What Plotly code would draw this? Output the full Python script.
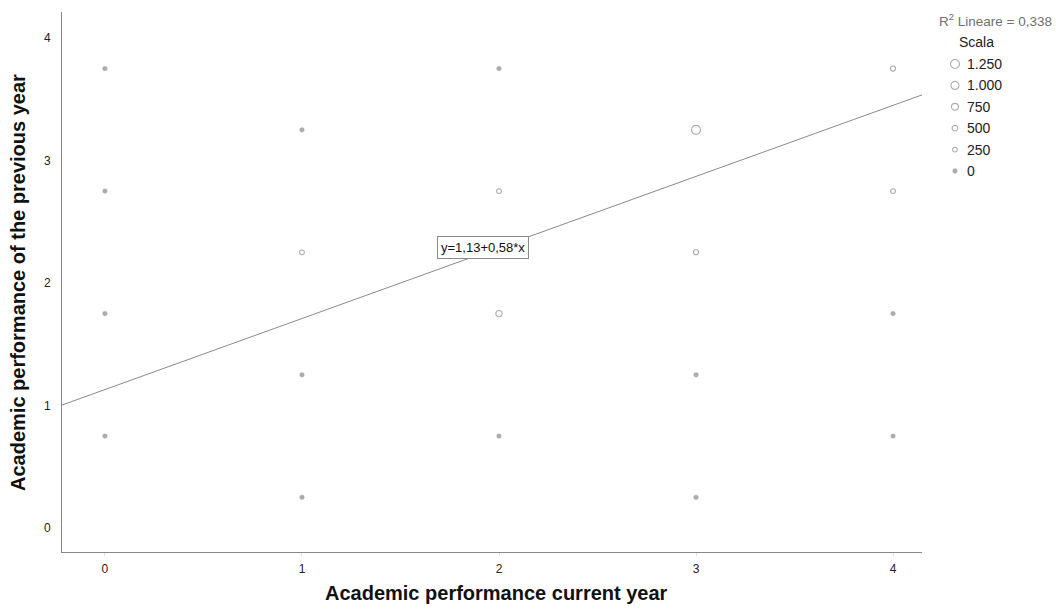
import plotly.graph_objects as go

# ---- data ----
x_current = [0, 0, 0, 0,
             1, 1, 1, 1,
             2, 2, 2, 2,
             3, 3, 3, 3,
             4, 4, 4, 4]
y_previous = [3.75, 2.75, 1.75, 0.75,
              3.25, 2.25, 1.25, 0.25,
              3.75, 2.75, 1.75, 0.75,
              3.25, 2.25, 1.25, 0.25,
              3.75, 2.75, 1.75, 0.75]
counts = [60, 50, 60, 40,
          60, 150, 80, 30,
          70, 200, 600, 100,
          1250, 400, 80, 40,
          400, 150, 80, 60]

intercept = 1.13
slope = 0.58
fit_label = "y=1,13+0,58*x"
r2_label = "R<sup>2</sup> Lineare = 0,338"

legend_values = [1250, 1000, 750, 500, 250, 0]
legend_labels = ["1.250", "1.000", "750", "500", "250", "0"]

x_ticks = [0, 1, 2, 3, 4]
y_ticks = [0, 1, 2, 3, 4]

x_title = "Academic performance current year"
y_title = "Academic performance of the previous year"

# ---- styling ----
FONT = "Liberation Sans, Arial, sans-serif"
GREY = "#8a8a8a"
x_range = [-0.218, 4.147]
y_range = [-0.196, 4.212]
sizeref = 2.0 * max(legend_values) / (9 ** 2)
small_cut = 120


def symbols(vals):
    return ["circle" if v < small_cut else "circle-open" for v in vals]


def widths(vals):
    return [0.3 if v < small_cut else 1.1 for v in vals]


fig = go.Figure()

# regression line
fig.add_trace(go.Scatter(
    x=x_range, y=[intercept + slope * v for v in x_range],
    mode="lines", line=dict(color=GREY, width=1),
    hoverinfo="skip", showlegend=False))

# bubbles
fig.add_trace(go.Scatter(
    x=x_current, y=y_previous, mode="markers",
    marker=dict(size=counts, sizemode="area", sizeref=sizeref, sizemin=2.4,
                symbol=symbols(counts), color=GREY,
                line=dict(color=GREY, width=widths(counts))),
    showlegend=False, cliponaxis=False))

# size legend drawn on a small helper axis in the right margin
leg_rows = list(range(len(legend_values)))
fig.add_trace(go.Scatter(
    x=[0.153] * len(legend_values), y=leg_rows, mode="markers",
    marker=dict(size=[max(v, 1) for v in legend_values], sizemode="area", sizeref=sizeref,
                sizemin=2.4, symbol=symbols(legend_values), color=GREY,
                line=dict(color=GREY, width=widths(legend_values))),
    xaxis="x2", yaxis="y2", showlegend=False, hoverinfo="skip", cliponaxis=False))
for i, lab in enumerate(legend_labels):
    fig.add_annotation(x=0.24, y=leg_rows[i], xref="x2", yref="y2", text=lab,
                       showarrow=False, xanchor="left", yanchor="middle",
                       font=dict(family=FONT, size=14, color="#222"))
fig.add_annotation(x=0.17, y=-1.03, xref="x2", yref="y2", text="Scala",
                   showarrow=False, xanchor="left", yanchor="middle",
                   font=dict(family=FONT, size=14, color="#222"))
fig.add_annotation(x=0.0, y=-2.05, xref="x2", yref="y2", text=r2_label,
                   showarrow=False, xanchor="left", yanchor="middle",
                   font=dict(family=FONT, size=13.5, color="#707070"))

# equation box
fig.add_annotation(x=1.92, y=2.286, text=fit_label, showarrow=False,
                   font=dict(family=FONT, size=13, color="#111"),
                   bgcolor="white", bordercolor="#8a8a8a", borderwidth=1, borderpad=3)

# axis titles
fig.add_annotation(x=0.5 * 0.8652 + 0.005, y=-0.0759, xref="paper", yref="paper",
                   text="<b>" + x_title + "</b>", showarrow=False,
                   xanchor="center", yanchor="middle",
                   font=dict(family=FONT, size=20, color="#111"))
fig.add_annotation(x=-0.0443, y=0.5, xref="paper", yref="paper",
                   text="<b>" + y_title + "</b>", showarrow=False, textangle=-90,
                   xanchor="center", yanchor="middle",
                   font=dict(family=FONT, size=20, color="#111"))

fig.update_layout(
    width=1056, height=614,
    margin=dict(l=62, r=0, t=12, b=62, autoexpand=False),
    paper_bgcolor="white", plot_bgcolor="white",
    font=dict(family=FONT, size=12, color="#222"),
    hovermode=False,
    xaxis=dict(domain=[0, 0.8652], range=x_range, tickvals=x_ticks, automargin=False,
               showgrid=False, zeroline=False, showline=True, linecolor="#888",
               linewidth=1, ticks="outside", ticklen=3, tickcolor="#e0e0e0",
               ticklabelstandoff=3,
               tickfont=dict(family=FONT, size=12, color="#222")),
    yaxis=dict(range=y_range, tickvals=y_ticks, automargin=False,
               showgrid=False, zeroline=False, showline=True, linecolor="#888",
               linewidth=1, ticks="", ticklabelstandoff=8,
               tickfont=dict(family=FONT, size=12, color="#222")),
    xaxis2=dict(domain=[0.88, 1.0], range=[0, 1], anchor="y2", visible=False, fixedrange=True),
    yaxis2=dict(domain=[0, 1], range=[22.8, -2.43], anchor="x2", visible=False, fixedrange=True),
    showlegend=False,
)

fig.write_html("out.html", config={"displayModeBar": False, "staticPlot": True},
               post_script="document.body.style.margin='0';document.body.style.overflow='hidden';")
